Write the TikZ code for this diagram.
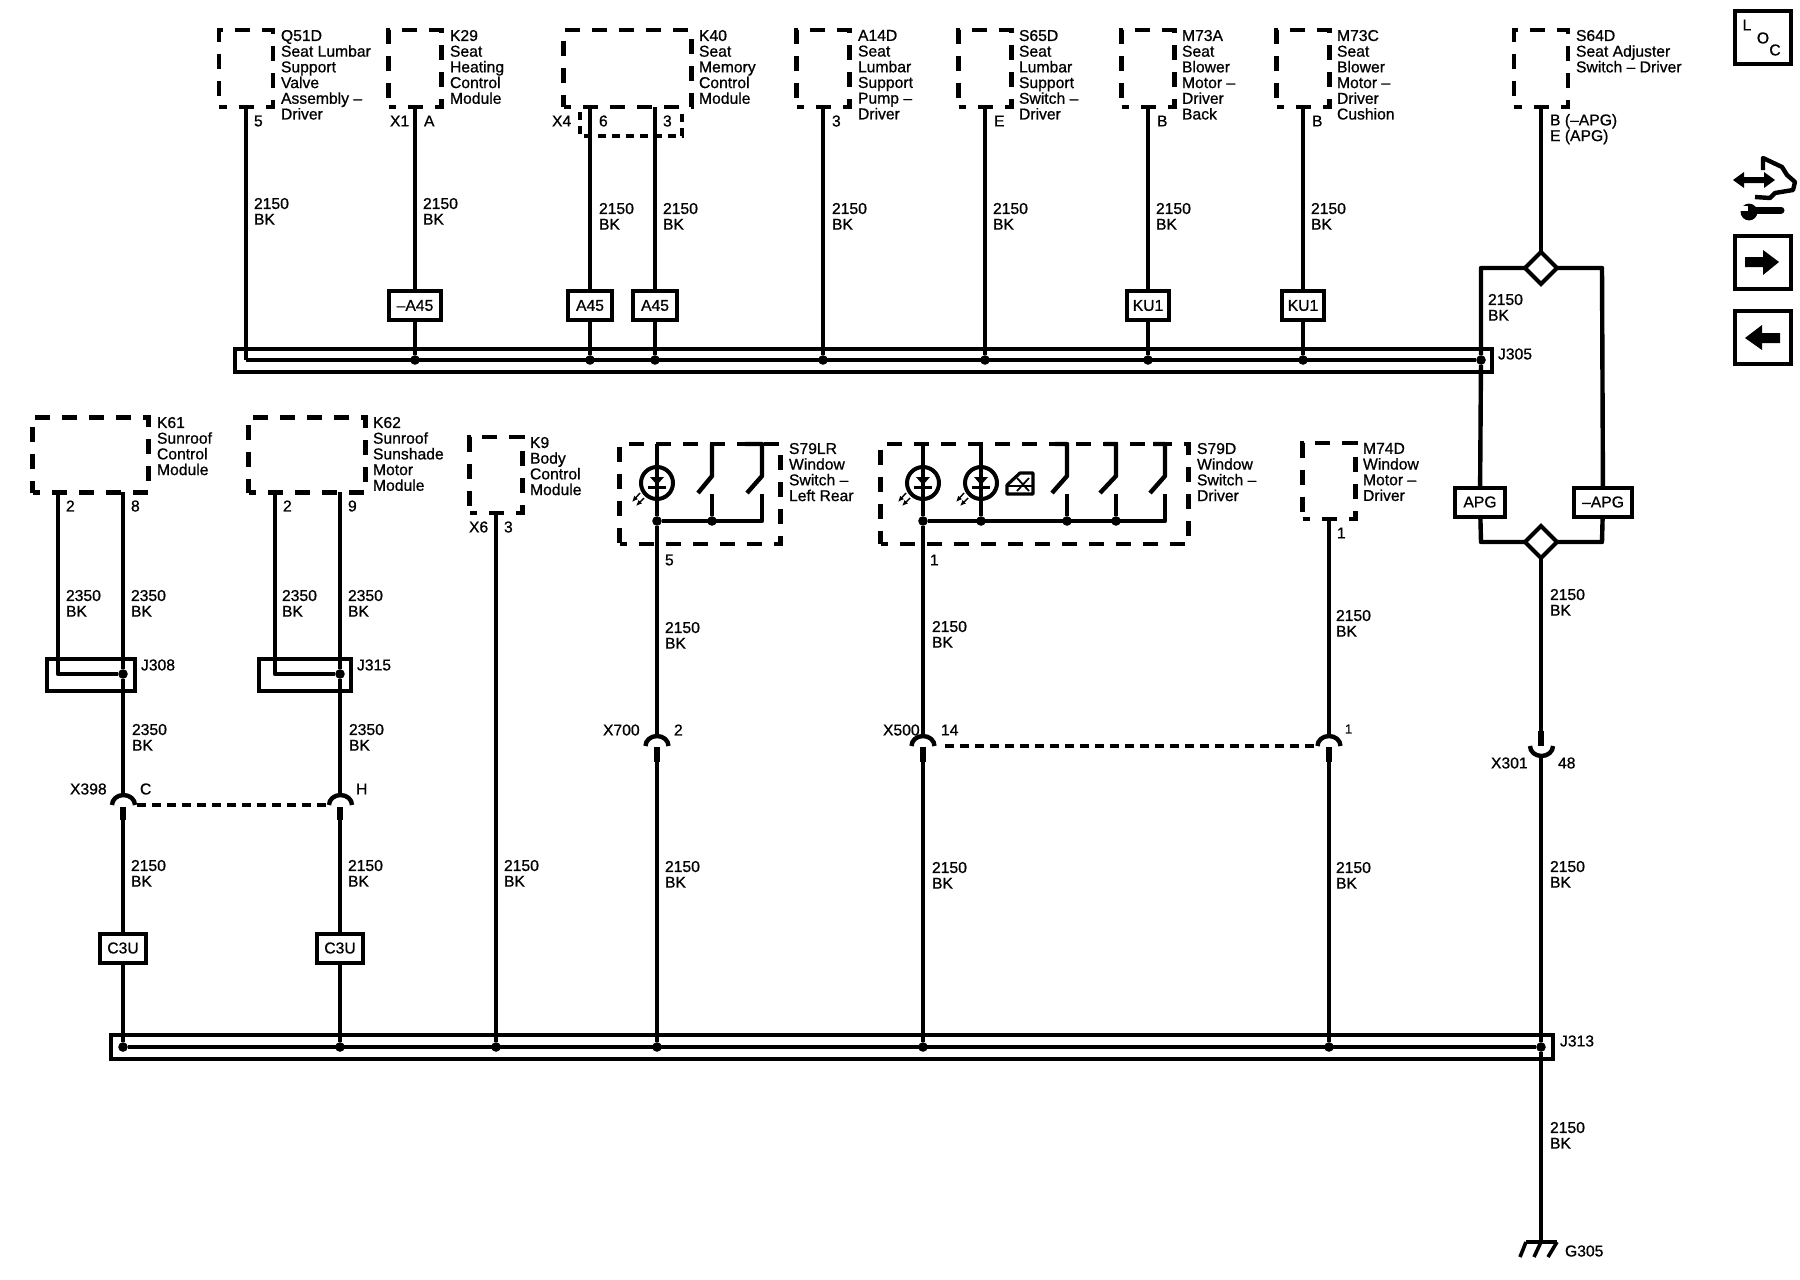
\documentclass[tikz,border=0pt]{standalone}
\usepackage{fontspec}
\setmainfont{Liberation Sans}[UprightFeatures={FakeBold=0.8}]
\usetikzlibrary{shapes.geometric,arrows.meta}
\tikzset{
  wire/.style={line width=2.2pt,line join=round},
  stub/.style={line width=3.4pt},
  dashwire/.style={line width=2.2pt,dash pattern=on 4.5pt off 3pt},
  devbox/.style={draw,line width=2.2pt,dash pattern=on 7.5pt off 6pt,dash phase=3.75pt,inner sep=0pt,outer sep=0pt},
  tag/.style={draw,line width=2pt,inner sep=0pt,outer sep=0pt,minimum height=14.5pt,font=\fontsize{7.85pt}{7.85pt}\selectfont},
  busbox/.style={draw,line width=2pt,inner sep=0pt,outer sep=0pt},
  tie/.style={circle,fill,inner sep=0pt,outer sep=0pt,minimum size=4.8pt},
  led/.style={circle,draw,line width=2pt,inner sep=0pt,outer sep=0pt,minimum size=16pt},
  splitter/.style={diamond,draw,line width=2pt,aspect=1,inner sep=0pt,outer sep=0pt,minimum width=16pt,minimum height=16pt},
  lbl/.style={anchor=north west,align=left,inner sep=0pt,outer sep=0pt,font=\fontsize{7.85pt}{7.85pt}\selectfont},
  pinlbl/.style={anchor=west,inner sep=0pt,outer sep=0pt,font=\fontsize{7.85pt}{7.85pt}\selectfont},
  navbox/.style={draw,line width=2pt,inner sep=0pt,outer sep=0pt,minimum width=28pt,minimum height=26.5pt},
}
\newcommand{\ledmark}[2]{%
  \fill (#1-7,#2-6) -- (#1+7,#2-6) -- (#1,#2+2) -- cycle;
  \draw[line width=1.5pt] (#1-9,#2+4) -- (#1+9,#2+4);
  \draw[line width=0.7pt,{Latex[length=3pt,width=2.6pt]}-] (#1-25,#2+19) -- (#1-17,#2+10);
  \draw[line width=0.7pt,{Latex[length=3pt,width=2.6pt]}-] (#1-21,#2+23) -- (#1-13,#2+15);
}
\begin{document}
\begin{tikzpicture}[x=0.5pt,y=-0.5pt]
\useasboundingbox (0,0) rectangle (1800,1280);
% top row devices
\node[devbox,minimum width=27pt,minimum height=38.5pt] (q51d) at (246,68.5) {};
\node[devbox,minimum width=26.5pt,minimum height=38.5pt] (k29) at (415,68.5) {};
\node[devbox,minimum width=64pt,minimum height=38.5pt] (k40) at (627.5,68.5) {};
\node[devbox,minimum width=26.5pt,minimum height=38.5pt] (a14d) at (823,68.5) {};
\node[devbox,minimum width=26.5pt,minimum height=38.5pt] (s65d) at (985,68.5) {};
\node[devbox,minimum width=26.5pt,minimum height=38.5pt] (m73a) at (1148,68.5) {};
\node[devbox,minimum width=26.5pt,minimum height=38.5pt] (m73c) at (1303,68.5) {};
\node[devbox,minimum width=27pt,minimum height=38.5pt] (s64d) at (1541,68.5) {};
\draw[line width=2.2pt,dash pattern=on 4pt off 3pt] (580,112) -- (580,136) -- (682,136) -- (682,112);
\node[lbl] (q51dt) at (281,30) {Q51D\\Seat Lumbar\\Support\\Valve\\Assembly --\\Driver};
\node[lbl] (k29t) at (450,30) {K29\\Seat\\Heating\\Control\\Module};
\node[lbl] (k40t) at (699,30) {K40\\Seat\\Memory\\Control\\Module};
\node[lbl] (a14dt) at (858,30) {A14D\\Seat\\Lumbar\\Support\\Pump --\\Driver};
\node[lbl] (s65dt) at (1019,30) {S65D\\Seat\\Lumbar\\Support\\Switch --\\Driver};
\node[lbl] (m73at) at (1182,30) {M73A\\Seat\\Blower\\Motor --\\Driver\\Back};
\node[lbl] (m73ct) at (1337,30) {M73C\\Seat\\Blower\\Motor --\\Driver\\Cushion};
\node[lbl] (s64dt) at (1576,30) {S64D\\Seat Adjuster\\Switch -- Driver};
% pins top row
\node[pinlbl] (p5) at (254,121) {5};
\node[pinlbl] (px1) at (390,121) {X1};
\node[pinlbl] (pa) at (424,121) {A};
\node[pinlbl] (px4) at (552,121) {X4};
\node[pinlbl] (p6) at (599,121) {6};
\node[pinlbl] (p3) at (663,121) {3};
\node[pinlbl] (p3b) at (832,121) {3};
\node[pinlbl] (pe) at (994,121) {E};
\node[pinlbl] (pb) at (1157,121) {B};
\node[pinlbl] (pbb) at (1312,121) {B};
\node[lbl] (papg) at (1550,114) {B (--APG)\\E (APG)};
% J305 bus
\node[busbox,minimum width=628.5pt,minimum height=11.5pt] (j305) at (863.5,360) {};
\node[pinlbl] (j305t) at (1498,354) {J305};
\coordinate (j305l) at (246,360);
\node[tie] (j1) at (415,360) {};
\node[tie] (j2) at (590,360) {};
\node[tie] (j3) at (655,360) {};
\node[tie] (j4) at (823,360) {};
\node[tie] (j5) at (985,360) {};
\node[tie] (j6) at (1148,360) {};
\node[tie] (j7) at (1303,360) {};
\node[tie] (j8) at (1481,360) {};
\draw[wire] (j305l) -- (j8);
\node[tag,minimum width=26pt] (a45a) at (415,305.5) {--A45};
\node[tag,minimum width=22pt] (a45b) at (590,305.5) {A45};
\node[tag,minimum width=22pt] (a45c) at (655,305.5) {A45};
\node[tag,minimum width=21pt] (ku1a) at (1148,305.5) {KU1};
\node[tag,minimum width=21pt] (ku1b) at (1303,305.5) {KU1};
\coordinate (k40a) at (590,107);
\coordinate (k40b) at (655,107);
\draw[wire] (q51d.south) -- (j305l);
\draw[wire] (k29.south) -- (a45a) -- (j1);
\draw[wire] (k40a) -- (a45b) -- (j2);
\draw[wire] (k40b) -- (a45c) -- (j3);
\draw[wire] (a14d.south) -- (j4);
\draw[wire] (s65d.south) -- (j5);
\draw[wire] (m73a.south) -- (ku1a) -- (j6);
\draw[wire] (m73c.south) -- (ku1b) -- (j7);
\node[lbl] (w1) at (254,198) {2150\\BK};
\node[lbl] (w2) at (423,198) {2150\\BK};
\node[lbl] (w3) at (599,203) {2150\\BK};
\node[lbl] (w4) at (663,203) {2150\\BK};
\node[lbl] (w5) at (832,203) {2150\\BK};
\node[lbl] (w6) at (993,203) {2150\\BK};
\node[lbl] (w7) at (1156,203) {2150\\BK};
\node[lbl] (w8) at (1311,203) {2150\\BK};
% S64D branches
\node[splitter] (dtop) at (1541,268) {};
\node[splitter] (dbot) at (1541,542) {};
\node[tag,minimum width=25pt] (apg) at (1480,502) {APG};
\node[tag,minimum width=29pt] (napg) at (1603,502) {--APG};
\coordinate (ltop) at (1481,268);
\coordinate (rtop) at (1602,268);
\coordinate (lbot) at (1481,542);
\coordinate (rbot) at (1602,542);
\draw[wire] (s64d.south) -- (dtop);
\draw[wire] (dtop) -- (ltop) -- (j8) -- (apg) -- (lbot) -- (dbot);
\draw[wire] (dtop) -- (rtop) -- (napg) -- (rbot) -- (dbot);
\node[lbl] (w9) at (1488,294) {2150\\BK};
\node[lbl] (w10) at (1550,589) {2150\\BK};
% X301
\coordinate (x301a) at (1541,731);
\coordinate (x301b) at (1541,746);
\coordinate (x301c) at (1541,756);
\draw[wire] (dbot) -- (x301a);
\draw[stub] (x301a) -- (x301b);
\draw[wire] (1530,746) arc[start angle=180,end angle=360,x radius=5.75pt,y radius=5pt];
\node[pinlbl] (x301t) at (1491,763) {X301};
\node[pinlbl] (x301p) at (1558,763) {48};
\node[lbl] (w11) at (1550,861) {2150\\BK};
% J313 bus
\node[busbox,minimum width=721pt,minimum height=12pt] (j313) at (832,1047) {};
\node[pinlbl] (j313t) at (1560,1041) {J313};
\node[tie] (g1) at (123,1047) {};
\node[tie] (g2) at (340,1047) {};
\node[tie] (g3) at (496,1047) {};
\node[tie] (g4) at (657,1047) {};
\node[tie] (g5) at (923,1047) {};
\node[tie] (g6) at (1329,1047) {};
\node[tie] (g7) at (1541,1047) {};
\draw[wire] (g1) -- (g7);
\coordinate (g305) at (1541,1242);
\draw[wire] (x301c) -- (g7) -- (g305);
\draw[wire] (1526,1242) -- (1557,1242);
\draw[line width=1.8pt] (1526,1242) -- (1520,1257) (1541,1242) -- (1534,1257) (1557,1242) -- (1548,1257);
\node[lbl] (w12) at (1550,1122) {2150\\BK};
\node[pinlbl] (g305t) at (1565,1251) {G305};
% second row devices
\node[devbox,minimum width=58pt,minimum height=37.5pt] (k61) at (90.5,455) {};
\node[devbox,minimum width=58.5pt,minimum height=37.5pt] (k62) at (307,455) {};
\node[devbox,minimum width=26.5pt,minimum height=38pt] (k9) at (496,475) {};
\node[devbox,minimum width=80.5pt,minimum height=50pt] (s79lr) at (700,494) {};
\node[devbox,minimum width=154pt,minimum height=50pt] (s79d) at (1034.5,494) {};
\node[devbox,minimum width=26.5pt,minimum height=38pt] (m74d) at (1329,481) {};
\node[lbl] (k61t) at (157,417) {K61\\Sunroof\\Control\\Module};
\node[lbl] (k62t) at (373,417) {K62\\Sunroof\\Sunshade\\Motor\\Module};
\node[lbl] (k9t) at (530,437) {K9\\Body\\Control\\Module};
\node[lbl] (s79lrt) at (789,443) {S79LR\\Window\\Switch --\\Left Rear};
\node[lbl] (s79dt) at (1197,443) {S79D\\Window\\Switch --\\Driver};
\node[lbl] (m74dt) at (1363,443) {M74D\\Window\\Motor --\\Driver};
\coordinate (k61a) at (58,492);
\coordinate (k61b) at (123,492);
\coordinate (k62a) at (275,492);
\coordinate (k62b) at (340,492);
\node[pinlbl] (p2a) at (66,506) {2};
\node[pinlbl] (p8) at (131,506) {8};
\node[pinlbl] (p2b) at (283,506) {2};
\node[pinlbl] (p9) at (348,506) {9};
\node[pinlbl] (px6) at (469,527) {X6};
\node[pinlbl] (p3c) at (504,527) {3};
\node[pinlbl] (p5b) at (665,560) {5};
\node[pinlbl] (p1) at (930,560) {1};
\node[pinlbl] (p1b) at (1337,533) {1};
\node[lbl] (w13) at (66,590) {2350\\BK};
\node[lbl] (w14) at (131,590) {2350\\BK};
\node[lbl] (w15) at (282,590) {2350\\BK};
\node[lbl] (w16) at (348,590) {2350\\BK};
% J308 and J315
\node[busbox,minimum width=44pt,minimum height=16pt] (j308) at (90.5,675) {};
\node[busbox,minimum width=46pt,minimum height=16pt] (j315) at (304.5,675) {};
\node[pinlbl] (j308t) at (141,665) {J308};
\node[pinlbl] (j315t) at (357,665) {J315};
\node[tie] (s1) at (123,674) {};
\node[tie] (s2) at (340,674) {};
\coordinate (s1a) at (58,674);
\coordinate (s2a) at (275,674);
\draw[wire] (k61a) -- (s1a) -- (s1);
\draw[wire] (k62a) -- (s2a) -- (s2);
\node[lbl] (w17) at (132,724) {2350\\BK};
\node[lbl] (w18) at (349,724) {2350\\BK};
% X398
\coordinate (x398a) at (123,795);
\coordinate (x398b) at (123,807);
\coordinate (x398c) at (123,820);
\coordinate (x398d) at (340,795);
\coordinate (x398e) at (340,807);
\coordinate (x398f) at (340,820);
\draw[wire] (k61b) -- (s1) -- (x398a);
\draw[wire] (k62b) -- (s2) -- (x398d);
\draw[wire] (112,805) arc[start angle=180,end angle=0,x radius=5.75pt,y radius=5pt];
\draw[wire] (329,805) arc[start angle=180,end angle=0,x radius=5.75pt,y radius=5pt];
\draw[stub] (x398b) -- (x398c);
\draw[stub] (x398e) -- (x398f);
\draw[dashwire] (137,805) -- (327,805);
\node[pinlbl] (x398t) at (70,789) {X398};
\node[pinlbl] (x398p) at (140,789) {C};
\node[pinlbl] (x398q) at (356,789) {H};
\node[tag,minimum width=23pt] (c3ua) at (123,948) {C3U};
\node[tag,minimum width=23pt] (c3ub) at (340,948) {C3U};
\draw[wire] (x398c) -- (c3ua) -- (g1);
\draw[wire] (x398f) -- (c3ub) -- (g2);
\node[lbl] (w19) at (131,860) {2150\\BK};
\node[lbl] (w20) at (348,860) {2150\\BK};
\draw[wire] (k9.south) -- (g3);
\node[lbl] (w21) at (504,860) {2150\\BK};
% S79LR insides
\node[led] (led1) at (657,483) {};
\ledmark{657}{483}
\node[tie] (t1) at (657,521) {};
\node[tie] (t2) at (712,521) {};
\coordinate (t3) at (762,521);
\coordinate (s79lra) at (657,444);
\draw[wire] (s79lra) -- (led1.center) -- (t1);
\draw[wire] (712,444) -- (712,476) -- (698,493);
\draw[wire] (745,444) -- (762,444) -- (762,476) -- (747,493);
\draw[wire] (712,494) -- (t2);
\draw[wire] (762,494) -- (t3) -- (t1);
% S79D insides
\node[led] (led2) at (923,483) {};
\node[led] (led3) at (981,483) {};
\ledmark{923}{483}
\ledmark{981}{483}
\draw[line width=1.6pt,line join=round] (1007,485) -- (1020,473) -- (1033,473) -- (1033,494) -- (1007,494) -- cycle;
\draw[line width=0.9pt] (1007,486) -- (1033,486) (1017,478) -- (1029,491) (1029,478) -- (1017,491);
\node[tie] (t4) at (923,521) {};
\node[tie] (t5) at (981,521) {};
\node[tie] (t6) at (1067,521) {};
\node[tie] (t7) at (1116,521) {};
\coordinate (t8) at (1165,521);
\coordinate (s79da) at (923,444);
\coordinate (s79db) at (981,444);
\draw[wire] (s79da) -- (led2.center) -- (t4);
\draw[wire] (s79db) -- (led3.center) -- (t5);
\draw[wire] (1055,444) -- (1067,444) -- (1067,476) -- (1052,493);
\draw[wire] (1104,444) -- (1116,444) -- (1116,476) -- (1100,493);
\draw[wire] (1153,444) -- (1165,444) -- (1165,476) -- (1150,493);
\draw[wire] (1067,494) -- (t6);
\draw[wire] (1116,494) -- (t7);
\draw[wire] (1165,494) -- (t8) -- (t4);
% X700 X500 and the 1 pin of M74D
\coordinate (x700a) at (657,735);
\coordinate (x700b) at (657,747);
\coordinate (x700c) at (657,762);
\coordinate (x500a) at (923,735);
\coordinate (x500b) at (923,747);
\coordinate (x500c) at (923,762);
\coordinate (m74a) at (1329,735);
\coordinate (m74b) at (1329,747);
\coordinate (m74c) at (1329,762);
\draw[wire] (t1) -- (x700a);
\draw[wire] (t4) -- (x500a);
\draw[wire] (m74d.south) -- (m74a);
\draw[wire] (645.5,746) arc[start angle=180,end angle=0,x radius=5.75pt,y radius=5pt];
\draw[wire] (911.5,746) arc[start angle=180,end angle=0,x radius=5.75pt,y radius=5pt];
\draw[wire] (1317.5,746) arc[start angle=180,end angle=0,x radius=5.75pt,y radius=5pt];
\draw[stub] (x700b) -- (x700c);
\draw[stub] (x500b) -- (x500c);
\draw[stub] (m74b) -- (m74c);
\draw[dashwire] (945,746) -- (1315,746);
\draw[wire] (x700c) -- (g4);
\draw[wire] (x500c) -- (g5);
\draw[wire] (m74c) -- (g6);
\node[pinlbl] (x700t) at (603,730) {X700};
\node[pinlbl] (x700p) at (674,730) {2};
\node[pinlbl] (x500t) at (883,730) {X500};
\node[pinlbl] (x500p) at (941,730) {14};
\node[pinlbl,font=\fontsize{6.5pt}{8pt}\selectfont] (m74p) at (1345,729) {1};
\node[lbl] (w22) at (665,622) {2150\\BK};
\node[lbl] (w23) at (932,621) {2150\\BK};
\node[lbl] (w24) at (1336,610) {2150\\BK};
\node[lbl] (w25) at (665,861) {2150\\BK};
\node[lbl] (w26) at (932,862) {2150\\BK};
\node[lbl] (w27) at (1336,862) {2150\\BK};
% right hand buttons
\node[navbox] (loc) at (1762.5,37.5) {};
\node[pinlbl,anchor=center] (locl) at (1747,25) {L};
\node[pinlbl,anchor=center] (loco) at (1763,38) {O};
\node[pinlbl,anchor=center] (locc) at (1775,50) {C};
\node[navbox] (fwd) at (1762.5,262.5) {};
\node[navbox] (back) at (1762.5,337.5) {};
\fill (1745,257) -- (1763,257) -- (1763,250) -- (1779,262) -- (1763,275) -- (1763,267) -- (1745,267) -- cycle;
\fill (1780,333) -- (1762,333) -- (1762,325) -- (1745,338) -- (1762,350) -- (1762,343) -- (1780,343) -- cycle;
% service icon
\fill (1733,180) -- (1744,172) -- (1744,177) -- (1764,177) -- (1764,172) -- (1775,180) -- (1764,188) -- (1764,183) -- (1744,183) -- (1744,188) -- cycle;
\draw[line width=2.2pt,line join=round] (1763,170) -- (1763,158) -- (1782,167) -- (1787,175) -- (1795,182) -- (1793,190) -- (1775,193) -- (1770,198) -- (1755,197);
\draw[line width=3.5pt,line cap=round] (1750,210) -- (1781,210);
\fill (1749,212) circle[radius=4.2pt];
\fill[white] (1738,206) rectangle (1748,211);
\end{tikzpicture}
\end{document}
